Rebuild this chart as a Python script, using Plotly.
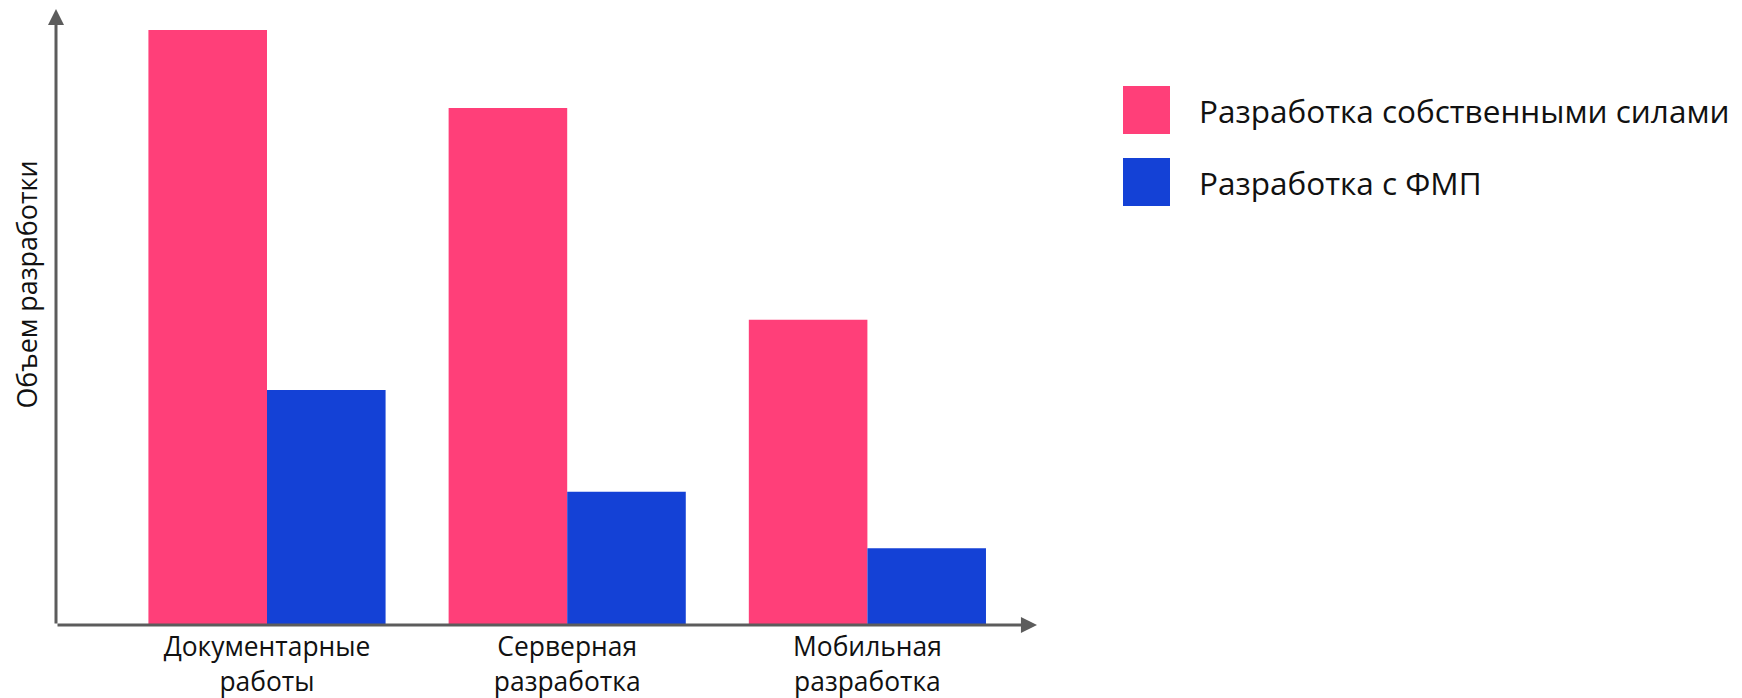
import plotly.graph_objects as go

categories = ["Документарные<br>работы", "Серверная<br>разработка", "Мобильная<br>разработка"]
series_names = ["Разработка собственными силами", "Разработка с ФМП"]
own_values = [100, 86.9, 51.3]
fmp_values = [39.5, 22.4, 12.9]
colors = ["#FF3F79", "#1441D6"]
y_title = "Объем разработки"

OFF = 8  # default page body margin
W, H = 1742 - OFF, 698 - OFF
# plot area in screenshot pixels, converted to figure pixels
L, R, T, B = 56 - OFF, 1037 - OFF, 9 - OFF, 625 - OFF


def px_x(p):
    return (p - OFF - L) / (R - L)


def px_y(p):
    return (B - (p - OFF)) / (B - T)


x_idx = list(range(len(categories)))
fig = go.Figure()
for name, vals, col in zip(series_names, [own_values, fmp_values], colors):
    fig.add_trace(go.Bar(x=x_idx, y=vals, name=name, marker=dict(color=col, line=dict(width=0))))

cat_center0, cat_step = 267.0 - OFF, 300.2
fig.update_layout(
    width=W, height=H,
    margin=dict(l=L, r=W - R, t=T, b=H - B),
    plot_bgcolor="white", paper_bgcolor="white",
    barmode="group", bargap=0.21, bargroupgap=0,
    showlegend=False,
    font=dict(family="Open Sans", color="#111111"),
    xaxis=dict(
        tickvals=x_idx, ticktext=categories, tickfont=dict(size=26.4),
        range=[(L - cat_center0) / cat_step, (R - cat_center0) / cat_step],
        showgrid=False, zeroline=False, showline=False, ticks="",
        ticklabelstandoff=4, automargin=False,
    ),
    yaxis=dict(
        range=[0, 100 * (B - T) / (B - (30 - OFF))], showgrid=False, zeroline=False,
        showline=False, showticklabels=False, ticks="", automargin=False,
    ),
)

axis_col = "#5c5c5c"
# axis arrows
fig.add_annotation(xref="paper", yref="paper", x=0, y=1, ax=0, ay=B - T, text="",
                   showarrow=True, arrowhead=2, arrowwidth=3, arrowsize=1.07, arrowcolor=axis_col)
fig.add_annotation(xref="paper", yref="paper", x=1, y=0, ax=-(R - L), ay=0, text="",
                   showarrow=True, arrowhead=2, arrowwidth=3, arrowsize=1.07, arrowcolor=axis_col)

# y-axis title
fig.add_annotation(xref="paper", yref="paper", x=px_x(25.5), y=px_y(285), text=y_title,
                   textangle=-90, showarrow=False, font=dict(size=26.8, color="#111111"),
                   xanchor="center", yanchor="middle", borderpad=0)

# custom legend
leg_rows = [(86, 134), (158, 206)]
for (y0, y1), name, col in zip(leg_rows, series_names, colors):
    fig.add_shape(type="rect", xref="paper", yref="paper", x0=px_x(1123), x1=px_x(1170),
                  y0=px_y(y1), y1=px_y(y0), fillcolor=col, line=dict(width=0))
    fig.add_annotation(xref="paper", yref="paper", x=px_x(1198), y=px_y((y0 + y1) / 2), text=name,
                       showarrow=False, xanchor="left", yanchor="middle", borderpad=0,
                       font=dict(size=31.5, color="#111111"))

fig.write_html("out.html")
